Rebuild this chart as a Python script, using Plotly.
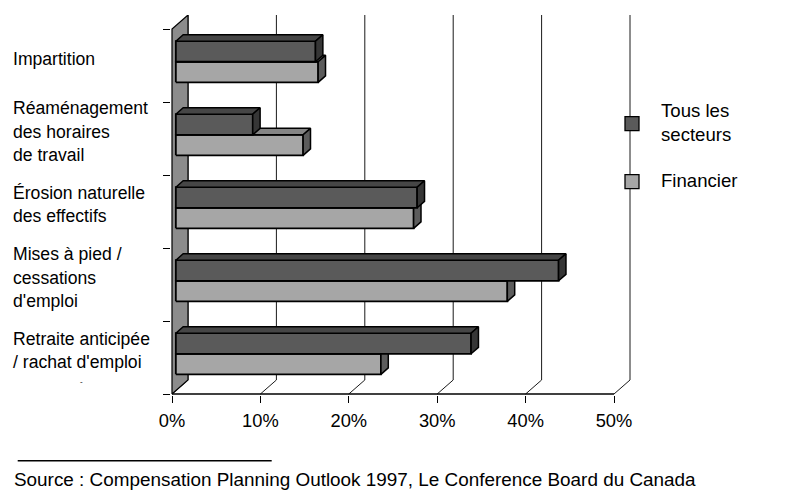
import plotly.graph_objects as go

# ---- data -------------------------------------------------------------
categories = [
    "Impartition",
    "Réaménagement<br>des horaires<br>de travail",
    "Érosion naturelle<br>des effectifs",
    "Mises à pied /<br>cessations<br>d'emploi",
    "Retraite anticipée<br>/ rachat d'emploi",
]
series_names = ["Tous les<br>secteurs", "Financier"]
tous_les_secteurs = [15.8, 8.7, 27.3, 43.3, 33.4]
financier = [16.1, 14.4, 26.9, 37.5, 23.2]
tick_values = [0, 10, 20, 30, 40, 50]
tick_labels = ["0%", "10%", "20%", "30%", "40%", "50%"]
source_text = "Source : Compensation Planning Outlook 1997, Le Conference Board du Canada"

# ---- page geometry (pixels) -------------------------------------------
W, H = 806, 491
ML, MR, MT, MB = 171, 174, 15, 96
PLOT_W = W - ML - MR
PLOT_H = H - MT - MB
ORIGIN_X = 172.0      # pixel column of 0 %
PX_PCT = 8.84         # pixels per percentage point
FLOOR_Y = 394.0       # pixel row of the front floor edge
PX_CAT = 73.0         # pixels per category band

x_range = [(ML - ORIGIN_X) / PX_PCT, (W - MR - ORIGIN_X) / PX_PCT]
y_range = [(FLOOR_Y - (H - MB)) / PX_CAT, (FLOOR_Y - MT) / PX_CAT]

# oblique depth of the 3-D box, in data units
DEPTH_X = 16.0 / PX_PCT
DEPTH_Y = 14.0 / PX_CAT
BAR_FRONT, BAR_BACK = 0.24, 0.70   # bars occupy this slice of the depth
BAR_H = 0.282                      # bar thickness in category units
BAR_SPLIT = 0.505                  # boundary between the two bars

N = len(categories)
TOP = float(N)
FONT = "Liberation Sans, Arial, sans-serif"

DARK = {"front": "#5a5a5a", "top": "#464646", "side": "#363636"}
LIGHT = {"front": "#a6a6a6", "top": "#858585", "side": "#5c5c5c"}


def px_paper_x(px):
    return (px - ML) / PLOT_W


def px_paper_y(py):
    return (H - MB - py) / PLOT_H


def px_data_y(py):
    return (FLOOR_Y - py) / PX_CAT


def shift(pts, f):
    return [(x + f * DEPTH_X, y + f * DEPTH_Y) for x, y in pts]


def poly_trace(polys, color, width=1.5):
    xs, ys = [], []
    for p in polys:
        xs += [pt[0] for pt in p] + [p[0][0], None]
        ys += [pt[1] for pt in p] + [p[0][1], None]
    return go.Scatter(
        x=xs, y=ys, mode="lines", fill="toself", fillcolor=color,
        line=dict(color="black", width=width), hoverinfo="skip", showlegend=False,
    )


def box_faces(values, y_low):
    fronts, tops, sides = [], [], []
    for v, y0 in zip(values, y_low):
        y1 = y0 + BAR_H
        fronts.append(shift([(0, y0), (v, y0), (v, y1), (0, y1)], BAR_FRONT))
        tops.append(shift([(0, y1), (v, y1)], BAR_FRONT) + shift([(v, y1), (0, y1)], BAR_BACK))
        sides.append(shift([(v, y0), (v, y1)], BAR_FRONT) + shift([(v, y1), (v, y0)], BAR_BACK))
    return fronts, tops, sides


fig = go.Figure()

# back wall grid lines and floor diagonals
gx, gy = [], []
for t in tick_values:
    gx += [t, t + DEPTH_X, t + DEPTH_X, None]
    gy += [0, DEPTH_Y, TOP + DEPTH_Y, None]
fig.add_trace(go.Scatter(x=gx, y=gy, mode="lines", line=dict(color="#1a1a1a", width=1),
                         hoverinfo="skip", showlegend=False))

# left side wall
wall = [(0, 0), (0, TOP), (DEPTH_X, TOP + DEPTH_Y), (DEPTH_X, DEPTH_Y)]
fig.add_trace(poly_trace([wall], "#8c8c8c", width=1.2))

# front floor edge
fig.add_trace(go.Scatter(x=[0, tick_values[-1]], y=[0, 0], mode="lines",
                         line=dict(color="black", width=1.3), hoverinfo="skip", showlegend=False))

# bars: the lower (Financier) box first, then the upper (Tous les secteurs) box
band_bottom = [N - 1 - k for k in range(N)]
light_low = [b + BAR_SPLIT - BAR_H for b in band_bottom]
dark_low = [b + BAR_SPLIT for b in band_bottom]

for values, lows, pal in ((financier, light_low, LIGHT), (tous_les_secteurs, dark_low, DARK)):
    fronts, tops, sides = box_faces(values, lows)
    fig.add_trace(poly_trace(fronts, pal["front"], width=1.8))
    fig.add_trace(poly_trace(tops, pal["top"], width=1.5))
    fig.add_trace(poly_trace(sides, pal["side"], width=1.5))

annotations = []
shapes = []

# category labels, one annotation per line, block centred slightly above its band
LINE_PX = 23.5
for k, label in enumerate(categories):
    lines = label.split("<br>")
    centre_px = FLOOR_Y - (N - k - 0.5) * PX_CAT - 7
    for j, line in enumerate(lines):
        py = centre_px + (j - (len(lines) - 1) / 2) * LINE_PX
        annotations.append(dict(
            text=line, xref="paper", yref="y", x=px_paper_x(11), y=px_data_y(py),
            xanchor="left", yanchor="middle", showarrow=False,
            font=dict(family=FONT, size=17.6, color="black"),
        ))

annotations.append(dict(
    text="-", xref="paper", yref="y", x=px_paper_x(81), y=px_data_y(381.5),
    xanchor="center", yanchor="middle", showarrow=False,
    font=dict(family=FONT, size=8, color="black"),
))

# legend
legend_rows = [(123.7, 122.8, DARK["front"]), (181.7, 180.3, LIGHT["front"])]
for name, (sq_y, txt_y, col) in zip(series_names, legend_rows):
    shapes.append(dict(
        type="rect", xref="paper", yref="paper",
        x0=px_paper_x(625), x1=px_paper_x(639), y0=px_paper_y(sq_y + 7), y1=px_paper_y(sq_y - 7),
        fillcolor=col, line=dict(color="black", width=1.3), layer="above",
    ))
    annotations.append(dict(
        text=name, xref="paper", yref="paper", x=px_paper_x(659), y=px_paper_y(txt_y),
        xanchor="left", yanchor="middle", align="left", showarrow=False,
        font=dict(family=FONT, size=18.6, color="black"),
    ))

# source rule and note
shapes.append(dict(
    type="line", xref="paper", yref="paper",
    x0=px_paper_x(17.7), x1=px_paper_x(271.7), y0=px_paper_y(460.7), y1=px_paper_y(460.7),
    line=dict(color="black", width=1.6),
))
annotations.append(dict(
    text=source_text, xref="paper", yref="paper", x=px_paper_x(12), y=px_paper_y(480),
    xanchor="left", yanchor="middle", showarrow=False,
    font=dict(family=FONT, size=18.9, color="black"),
))

fig.update_layout(
    width=W, height=H,
    margin=dict(l=ML, r=MR, t=MT, b=MB, pad=0),
    paper_bgcolor="white", plot_bgcolor="white",
    showlegend=False,
    xaxis=dict(
        range=x_range, tickvals=tick_values, ticktext=tick_labels,
        ticks="outside", ticklen=7, tickwidth=1, tickcolor="black",
        ticklabelstandoff=2,
        showgrid=False, zeroline=False, showline=False, fixedrange=True,
        tickfont=dict(family=FONT, size=18.3, color="black"),
    ),
    yaxis=dict(
        range=y_range, tickvals=list(range(N + 1)),
        ticks="outside", ticklen=7, tickwidth=1, tickcolor="black",
        showticklabels=False, showgrid=False, zeroline=False, showline=False, fixedrange=True,
    ),
    annotations=annotations,
    shapes=shapes,
)

fig.write_html("out.html")
